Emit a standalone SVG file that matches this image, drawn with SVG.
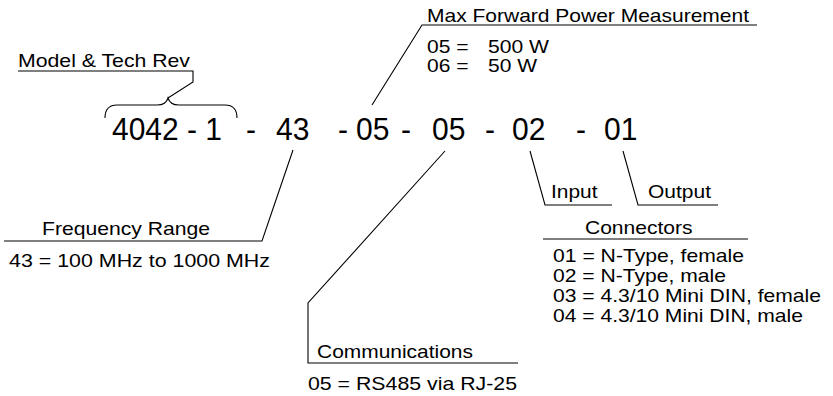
<svg xmlns="http://www.w3.org/2000/svg" width="833" height="396" viewBox="0 0 833 396">
<style>
  text { font-family: "Liberation Sans", Arial, sans-serif; fill: #000; }
  .big { font-size: 31.5px; }
  .lbl { font-size: 18.5px; }
  .ln { fill: none; stroke: #000; stroke-width: 1.1; }
</style>
<rect width="833" height="396" fill="#fff"/>
<g id="connectors">
  <path class="ln" d="M18,71 H193 V82 L168,98"/>
  <path class="ln" d="M105,118 Q105,105 117,105 L157,105 Q166,105 168,98 Q170,105 179,105 L225,105 Q237,105 237,118"/>
  <path class="ln" d="M757,25 H422 L372,105"/>
  <path class="ln" d="M4,241 H262 L293,150"/>
  <path class="ln" d="M445,151 L308,303 V363 H518"/>
  <path class="ln" d="M530,151 L545,205 H612"/>
  <path class="ln" d="M623,151 L638,205 H718"/>
  <path class="ln" d="M543,239 H748"/>
</g>
<g id="part-number">
  <text class="big" x="112" y="140" textLength="110" lengthAdjust="spacingAndGlyphs">4042 - 1</text>
  <text class="big" x="246" y="140" textLength="10" lengthAdjust="spacingAndGlyphs">-</text>
  <text class="big" x="276" y="140" textLength="33.4" lengthAdjust="spacingAndGlyphs">43</text>
  <text class="big" x="338" y="140" textLength="10" lengthAdjust="spacingAndGlyphs">-</text>
  <text class="big" x="356" y="140" textLength="33.4" lengthAdjust="spacingAndGlyphs">05</text>
  <text class="big" x="401" y="140" textLength="10" lengthAdjust="spacingAndGlyphs">-</text>
  <text class="big" x="432" y="140" textLength="33.4" lengthAdjust="spacingAndGlyphs">05</text>
  <text class="big" x="485" y="140" textLength="10" lengthAdjust="spacingAndGlyphs">-</text>
  <text class="big" x="512" y="140" textLength="33.4" lengthAdjust="spacingAndGlyphs">02</text>
  <text class="big" x="576" y="140" textLength="10" lengthAdjust="spacingAndGlyphs">-</text>
  <text class="big" x="604" y="140" textLength="33.4" lengthAdjust="spacingAndGlyphs">01</text>
</g>
<g id="model">
  <text class="lbl" x="18" y="66.5" textLength="172" lengthAdjust="spacingAndGlyphs">Model &amp; Tech Rev</text>
</g>
<g id="power">
  <text class="lbl" x="427" y="21.5" textLength="322" lengthAdjust="spacingAndGlyphs">Max Forward Power Measurement</text>
  <text class="lbl" x="427" y="52.5" textLength="41.5" lengthAdjust="spacingAndGlyphs">05 =</text>
  <text class="lbl" x="488" y="52.5" textLength="61" lengthAdjust="spacingAndGlyphs">500 W</text>
  <text class="lbl" x="427" y="71.5" textLength="41.5" lengthAdjust="spacingAndGlyphs">06 =</text>
  <text class="lbl" x="488" y="71.5" textLength="49" lengthAdjust="spacingAndGlyphs">50 W</text>
</g>
<g id="frequency">
  <text class="lbl" x="42" y="235" textLength="168" lengthAdjust="spacingAndGlyphs">Frequency Range</text>
  <text class="lbl" x="9" y="267" textLength="261" lengthAdjust="spacingAndGlyphs">43 = 100 MHz to 1000 MHz</text>
</g>
<g id="communications">
  <text class="lbl" x="317" y="357.5" textLength="156" lengthAdjust="spacingAndGlyphs">Communications</text>
  <text class="lbl" x="308" y="390" textLength="209" lengthAdjust="spacingAndGlyphs">05 = RS485 via RJ-25</text>
</g>
<g id="input">
  <text class="lbl" x="551" y="197.5" textLength="46.5" lengthAdjust="spacingAndGlyphs">Input</text>
</g>
<g id="output">
  <text class="lbl" x="648" y="197.5" textLength="63" lengthAdjust="spacingAndGlyphs">Output</text>
</g>
<g id="connectors-table">
  <text class="lbl" x="585" y="233.5" textLength="107.5" lengthAdjust="spacingAndGlyphs">Connectors</text>
  <text class="lbl" x="553" y="262" textLength="191" lengthAdjust="spacingAndGlyphs">01 = N-Type, female</text>
  <text class="lbl" x="553" y="282" textLength="173" lengthAdjust="spacingAndGlyphs">02 = N-Type, male</text>
  <text class="lbl" x="553" y="302" textLength="268" lengthAdjust="spacingAndGlyphs">03 = 4.3/10 Mini DIN, female</text>
  <text class="lbl" x="553" y="322" textLength="250" lengthAdjust="spacingAndGlyphs">04 = 4.3/10 Mini DIN, male</text>
</g>
</svg>
